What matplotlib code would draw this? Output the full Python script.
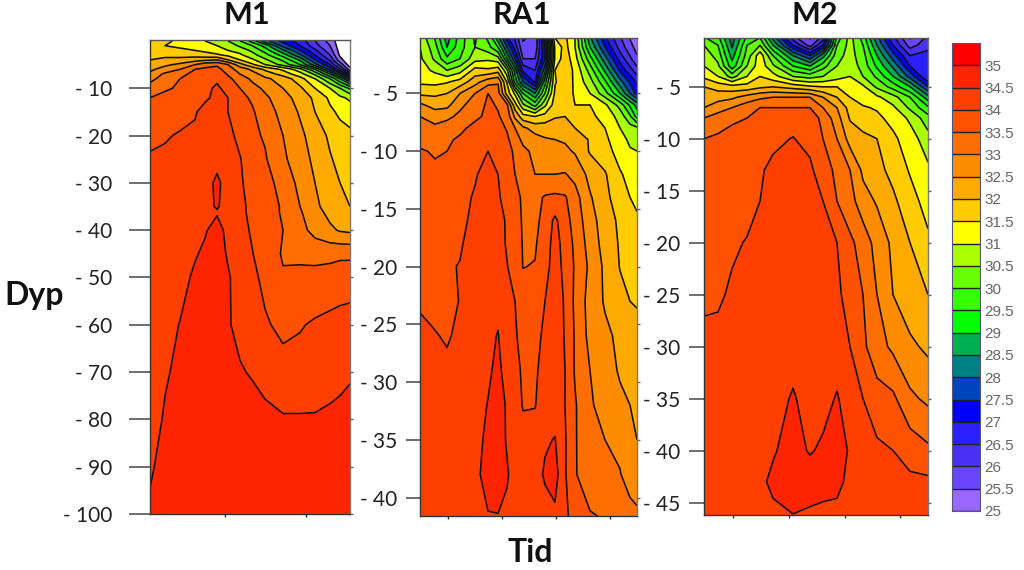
import matplotlib
matplotlib.use("Agg")
import matplotlib.pyplot as plt
from matplotlib.colors import ListedColormap, BoundaryNorm
import numpy as np

W, H = 1024, 570

levels = [25 + 0.5 * i for i in range(21)]
colors = ["#9966ff", "#6a45ff", "#4a30f0", "#2a20ff", "#0000ff", "#0045c0", "#008080",
          "#00b050", "#00ff00", "#33ff00", "#66ff00", "#aaff00", "#ffff00", "#ffcc00",
          "#ffaa00", "#ff8c00", "#ff6e00", "#ff5200", "#ff3f00", "#ff2400"]
bar_labels = ["35", "34.5", "34", "33.5", "33", "32.5", "32", "31.5", "31", "30.5", "30",
              "29.5", "29", "28.5", "28", "27.5", "27", "26.5", "26", "25.5", "25"]

# M1
tid_m1 = [0, 15, 30, 45, 55, 67, 78, 90, 102, 115, 133, 150, 165, 180, 190, 200]
dyp_m1 = [0, 1, 2, 3, 4, 5, 6, 7, 8, 10, 12, 15, 20, 25, 30, 35, 36.2, 40, 45, 50, 60, 70, 80, 90, 100]
temp_m1 = [
    [31.6, 31.6, 31.4, 31.2, 31, 30.8, 30.5, 30, 29.3, 28.2, 27.3, 26.8, 26, 25.3, 24.7, 24.5],
    [31.7, 31.5, 31.4, 31.3, 31.2, 31, 30.8, 30.4, 30, 29.3, 27.8, 27, 26.2, 25.5, 24.7, 24.5],
    [31.8, 31.7, 31.6, 31.5, 31.4, 31.2, 31, 30.8, 30.4, 29.8, 28.6, 27.5, 26.6, 25.7, 24.8, 24.5],
    [31.9, 31.9, 31.8, 31.8, 31.7, 31.6, 31.4, 31.1, 30.7, 30.2, 29.3, 28.1, 27, 26, 24.9, 24.5],
    [32, 32.1, 32.2, 32.3, 32.4, 32.5, 32, 31.5, 31.1, 30.6, 29.9, 28.9, 27.5, 26.4, 25.2, 24.5],
    [32.2, 32.4, 32.6, 33, 33.3, 33.4, 33, 32.2, 31.6, 31, 30.3, 29.5, 28.2, 27, 25.8, 24.7],
    [32.4, 32.7, 33, 33.5, 33.6, 33.7, 33.2, 32.8, 32.4, 31.9, 31.4, 30.7, 29.5, 27.8, 26.6, 25.2],
    [32.6, 33.1, 33.4, 33.6, 33.7, 33.8, 33.45, 33, 32.7, 32.3, 31.8, 31.2, 30.4, 29, 27.8, 26.5],
    [32.8, 33.3, 33.5, 33.65, 33.8, 33.9, 33.6, 33.3, 32.9, 32.6, 32.3, 31.7, 31, 30, 29, 27.8],
    [33.3, 33.45, 33.55, 33.7, 33.85, 34.1, 33.8, 33.5, 33.2, 32.9, 32.5, 32.1, 31.5, 31, 30.5, 29.9],
    [33.5, 33.6, 33.7, 33.8, 33.9, 34.15, 34, 33.6, 33.45, 33.1, 32.7, 32.3, 31.9, 31.4, 31.1, 30.9],
    [33.65, 33.7, 33.8, 33.95, 34.2, 34.25, 34, 33.75, 33.55, 33.3, 32.8, 32.45, 32, 31.6, 31.4, 31.3],
    [33.9, 33.95, 34.05, 34.1, 34.2, 34.3, 34.1, 33.9, 33.6, 33.45, 33, 32.6, 32.3, 31.9, 31.7, 31.6],
    [34.05, 34.1, 34.1, 34.15, 34.2, 34.35, 34.2, 34.02, 33.8, 33.55, 33.1, 32.7, 32.4, 32.05, 31.85, 31.75],
    [34.1, 34.1, 34.15, 34.2, 34.3, 34.6, 34.3, 34.05, 33.85, 33.65, 33.35, 32.85, 32.5, 32.2, 32, 31.85],
    [34.1, 34.15, 34.2, 34.25, 34.35, 34.55, 34.3, 34.1, 33.9, 33.7, 33.45, 33, 32.6, 32.3, 32.1, 32],
    [34.1, 34.15, 34.2, 34.25, 34.35, 34.45, 34.3, 34.1, 33.9, 33.7, 33.45, 33.05, 32.7, 32.35, 32.2, 32.1],
    [34.1, 34.15, 34.2, 34.3, 34.45, 34.7, 34.35, 34.15, 33.95, 33.75, 33.5, 33.15, 32.85, 32.6, 32.45, 32.4],
    [34.1, 34.2, 34.25, 34.45, 34.6, 34.7, 34.45, 34.2, 34.02, 33.8, 33.45, 33.37, 33.3, 33.35, 33.4, 33.4],
    [34.1, 34.2, 34.3, 34.6, 34.75, 34.8, 34.55, 34.3, 34.1, 33.9, 33.55, 33.65, 33.7, 33.72, 33.75, 33.77],
    [34.15, 34.3, 34.52, 34.8, 34.9, 34.9, 34.55, 34.35, 34.2, 34.05, 33.9, 33.97, 34.05, 34.12, 34.17, 34.2],
    [34.2, 34.45, 34.6, 34.85, 34.9, 34.9, 34.75, 34.55, 34.45, 34.3, 34.15, 34.15, 34.2, 34.3, 34.4, 34.45],
    [34.3, 34.55, 34.7, 34.85, 34.9, 34.9, 34.85, 34.8, 34.75, 34.65, 34.55, 34.55, 34.55, 34.6, 34.6, 34.65],
    [34.42, 34.7, 34.8, 34.85, 34.9, 34.9, 34.85, 34.8, 34.8, 34.75, 34.7, 34.7, 34.7, 34.7, 34.7, 34.75],
    [34.6, 34.75, 34.85, 34.85, 34.9, 34.9, 34.85, 34.85, 34.8, 34.8, 34.8, 34.8, 34.8, 34.8, 34.8, 34.8],
]

# RA1
tid_ra1 = [0, 15, 27, 40, 55, 68, 78, 87, 95, 103, 115, 125, 135, 145, 155, 170, 185, 200, 210, 217]
dyp_ra1 = [0, 1, 2, 3, 4, 5, 6, 7, 8, 9, 10, 12, 14, 16, 18, 20, 23, 26, 29, 32, 35, 38, 41.6]
temp_ra1 = [
    [30.8, 29.9, 28.7, 29.7, 30.6, 29.8, 28.5, 27, 26.3, 25.4, 25.6, 27.8, 31.6, 31.6, 31, 28.5, 27, 26, 25.4, 25.2],
    [31, 30.2, 29, 29.8, 30.5, 30.2, 29.5, 28, 26.8, 25.6, 25.6, 27.5, 31.1, 31.7, 31, 29, 27.5, 26.3, 25.7, 25.3],
    [31.1, 30.4, 29.6, 30, 30.8, 30.9, 30.7, 29, 27.6, 26, 26, 27.5, 31.1, 31.8, 31.2, 29.7, 28.2, 26.8, 26.1, 25.6],
    [31.2, 30.9, 30.5, 30.8, 31.7, 31.6, 31.8, 30.6, 28.8, 26.9, 26.5, 28.3, 31.5, 31.8, 31.4, 30.3, 28.9, 27.4, 26.7, 26.2],
    [31.4, 31.35, 31.45, 31.7, 32.3, 32.8, 32.95, 31.45, 29.3, 28, 26.9, 29.3, 31.45, 31.85, 31.4, 30.7, 29.6, 28.2, 27.4, 26.9],
    [31.9, 31.9, 32, 32.5, 33, 33.5, 33.2, 31.8, 30.9, 29.5, 28.5, 30, 31.6, 31.9, 31.4, 31, 30.2, 29, 28, 27.3],
    [32.6, 32.3, 32.35, 32.9, 33.2, 33.6, 33.45, 33.1, 31.7, 30.6, 29.8, 30.9, 31.75, 31.85, 31.5, 31.5, 31.1, 30.3, 29.4, 28.8],
    [33, 32.8, 32.9, 33.1, 33.35, 33.65, 33.55, 33.3, 32.4, 31.7, 31.5, 31.7, 31.95, 32, 31.95, 31.6, 31.35, 30.8, 30.1, 29.3],
    [33.2, 33.1, 33.2, 33.35, 33.7, 33.8, 33.7, 33.45, 33, 32.6, 32.3, 32.25, 32.3, 32.3, 32, 31.85, 31.5, 31, 30.7, 30.6],
    [33.35, 33.3, 33.4, 33.6, 33.8, 33.85, 33.8, 33.6, 33.2, 32.9, 32.7, 32.55, 32.5, 32.45, 32.3, 31.95, 31.6, 31.2, 30.9, 30.8],
    [33.55, 33.45, 33.5, 33.65, 33.85, 34, 33.9, 33.7, 33.4, 33.1, 32.9, 32.8, 32.75, 32.6, 32.45, 31.95, 31.7, 31.3, 31.05, 31],
    [33.6, 33.6, 33.65, 33.75, 33.95, 34.2, 34, 33.8, 33.5, 33.05, 33, 33, 33, 33.03, 32.85, 32.35, 32.05, 31.55, 31.35, 31.25],
    [33.7, 33.7, 33.75, 33.85, 34.05, 34.3, 34.05, 33.85, 33.6, 33.45, 33.35, 33.55, 33.6, 33.55, 33.2, 32.55, 32.15, 31.7, 31.5, 31.42],
    [33.75, 33.75, 33.8, 33.9, 34.1, 34.35, 34.15, 33.95, 33.7, 33.45, 33.35, 33.7, 34.1, 33.7, 33.3, 32.7, 32.25, 31.9, 31.65, 31.55],
    [33.85, 33.85, 33.9, 33.95, 34.2, 34.4, 34.2, 33.95, 33.75, 33.47, 33.45, 33.75, 34.2, 33.8, 33.4, 32.8, 32.3, 31.95, 31.75, 31.7],
    [33.9, 33.9, 33.95, 34.02, 34.25, 34.4, 34.25, 34.02, 33.8, 33.49, 33.52, 33.8, 34.25, 33.85, 33.45, 32.9, 32.4, 31.98, 31.85, 31.8],
    [33.95, 33.85, 33.85, 34.02, 34.2, 34.4, 34.4, 34.15, 34, 33.7, 33.65, 34, 34.25, 33.95, 33.4, 32.8, 32.45, 32.15, 32, 31.95],
    [34.1, 34.03, 33.95, 34.1, 34.25, 34.4, 34.52, 34.2, 34.05, 33.85, 33.85, 34.1, 34.25, 33.97, 33.45, 32.85, 32.6, 32.4, 32.25, 32.2],
    [34.1, 34.1, 34.1, 34.15, 34.25, 34.42, 34.62, 34.3, 34.1, 33.95, 33.92, 34.2, 34.3, 34, 33.45, 33, 32.7, 32.45, 32.35, 32.3],
    [34.1, 34.1, 34.15, 34.2, 34.3, 34.52, 34.7, 34.45, 34.15, 33.98, 33.98, 34.25, 34.3, 34, 33.55, 33.05, 32.85, 32.6, 32.5, 32.45],
    [34.1, 34.15, 34.2, 34.25, 34.35, 34.6, 34.75, 34.45, 34.25, 34.1, 34.2, 34.45, 34.52, 34.05, 33.55, 33.1, 33, 32.85, 32.65, 32.5],
    [34.15, 34.2, 34.25, 34.3, 34.4, 34.65, 34.8, 34.55, 34.3, 34.25, 34.35, 34.55, 34.7, 34.05, 33.55, 33.15, 33.25, 33.03, 32.75, 32.7],
    [34.2, 34.25, 34.3, 34.35, 34.4, 34.48, 34.48, 34.4, 34.3, 34.3, 34.3, 34.35, 34.4, 34.1, 33.8, 33.55, 33.45, 33.3, 33.2, 33.1],
]

# M2
tid_m2 = [0, 14, 28, 43, 56, 69, 89, 106, 119, 133, 146, 159, 173, 189, 206, 224]
dyp_m2 = [0, 1, 2, 3, 4, 5, 6, 7, 8, 10, 13, 16, 20, 25, 30, 35, 40, 43, 46.2]
temp_m2 = [
    [29.9, 29.5, 28.2, 29.5, 29.8, 28, 26, 25.3, 26, 29.5, 30.7, 29.7, 28, 26.5, 25.3, 26],
    [30.5, 30, 28.4, 30, 30.5, 29, 27, 25.8, 27, 30, 30.7, 30, 28.5, 27, 25.8, 26.3],
    [30.8, 30.3, 28.8, 30.2, 31.3, 30, 28.5, 27.5, 28.8, 30.3, 30.7, 30.2, 29, 27.7, 26.5, 26.7],
    [31, 30.6, 29.2, 30.5, 31.3, 30.6, 29.5, 29, 29.8, 30.5, 30.8, 30.3, 29.4, 28.4, 27, 27],
    [31.4, 31, 30.3, 31, 31.5, 31.2, 30.5, 30.3, 30.5, 30.8, 31, 30.5, 29.9, 29, 27.8, 26.5],
    [32, 31.8, 31.7, 31.7, 31.9, 32, 31.8, 31.6, 31.5, 31.5, 31.4, 31.1, 30.4, 29.8, 29, 27.5],
    [32.3, 32.3, 32.4, 32.7, 32.9, 33, 33, 33, 32.5, 32, 31.5, 31.3, 31.1, 30.7, 30, 28.7],
    [32.5, 32.8, 33, 33.3, 33.5, 33.5, 33.5, 33.5, 33, 32.5, 31.8, 31.55, 31.45, 31.1, 30.4, 29.6],
    [33, 33.2, 33.4, 33.5, 33.7, 33.8, 33.8, 33.7, 33.4, 32.7, 31.95, 31.8, 31.6, 31.35, 30.9, 30.2],
    [33.5, 33.6, 33.7, 33.8, 33.85, 33.9, 34.02, 33.85, 33.5, 33, 32.3, 32.1, 32, 31.6, 31.25, 30.7],
    [33.6, 33.7, 33.8, 33.9, 33.95, 34.1, 34.3, 34.1, 33.7, 33.4, 33, 32.4, 32.15, 31.85, 31.45, 31.1],
    [33.7, 33.8, 33.85, 33.88, 34, 34.3, 34.3, 34.2, 34, 33.5, 33.2, 32.7, 32.45, 32.1, 31.7, 31.3],
    [33.8, 33.9, 33.95, 34.02, 34.2, 34.3, 34.3, 34.3, 34.1, 34, 33.6, 33.3, 32.8, 32.4, 32, 31.6],
    [33.93, 33.95, 34.05, 34.1, 34.2, 34.3, 34.3, 34.3, 34.2, 34.1, 33.8, 33.5, 33, 32.5, 32.2, 32],
    [34.1, 34.1, 34.1, 34.1, 34.2, 34.3, 34.3, 34.4, 34.3, 34.2, 34, 33.6, 33.2, 32.9, 32.6, 32.4],
    [34.1, 34.1, 34.1, 34.2, 34.3, 34.3, 34.55, 34.3, 34.3, 34.55, 34.2, 34, 33.7, 33.6, 33.1, 32.9],
    [34.1, 34.1, 34.2, 34.2, 34.3, 34.45, 34.7, 34.45, 34.6, 34.7, 34.45, 34.3, 34.1, 34, 33.8, 33.6],
    [34.2, 34.2, 34.2, 34.3, 34.4, 34.6, 34.8, 34.8, 34.8, 34.7, 34.3, 34.2, 34.2, 34.15, 34.1, 34.1],
    [34.2, 34.2, 34.3, 34.3, 34.35, 34.4, 34.49, 34.4, 34.3, 34.3, 34.3, 34.3, 34.2, 34.2, 34.1, 34.1],
]

# pixel boxes of the panels (left, top, right, bottom)
panels = [
    ("M1", tid_m1, dyp_m1, temp_m1, (150, 40, 350, 514), (-99.9, 0.2),
     [10, 20, 30, 40, 50, 60, 70, 80, 90, 100], [75, 156], 21, 12),
    ("RA1", tid_ra1, dyp_ra1, temp_ra1, (420, 38, 637, 516), (-41.6, -0.2),
     [5, 10, 15, 20, 25, 30, 35, 40], [28, 82, 136, 190], 14, 6),
    ("M2", tid_m2, dyp_m2, temp_m2, (704, 38, 928, 515), (-46.2, -0.3),
     [5, 10, 15, 20, 25, 30, 35, 40, 45], [29, 85, 141, 196], 15, 6),
]
title_x = [247, 522, 815]


def box(fig, b):
    return fig.add_axes([b[0] / W, 1 - b[3] / H, (b[2] - b[0]) / W, (b[3] - b[1]) / H])


plt.rcParams["font.family"] = ["Lato", "DejaVu Sans"]
fig = plt.figure(figsize=(W / 100, H / 100), dpi=100, facecolor="white")
cmap = ListedColormap(colors)
norm = BoundaryNorm(levels, cmap.N)

for i, (name, tid, dyp, temp, b, ylim, yt, xt, tl, pad) in enumerate(panels):
    ax = box(fig, b)
    x = np.array(tid)
    y = -np.array(dyp)
    z = np.array(temp)
    ax.contourf(x, y, z, levels=levels, cmap=cmap, norm=norm)
    ax.contour(x, y, z, levels=levels, colors="#111111", linewidths=1.15)
    ax.set_xlim(tid[0], tid[-1])
    ax.set_ylim(*ylim)
    ax.set_xticks(xt)
    ax.set_xticklabels([])
    ax.set_yticks([-v for v in yt])
    ax.set_yticklabels(["- %d" % v for v in yt], fontsize=15, color="#222222")
    ax.tick_params(axis="y", length=tl * 0.72, width=1.2, color="#555555", pad=pad)
    ax.tick_params(axis="x", length=2.5, width=1, color="#333333", direction="out")
    for s in ax.spines.values():
        s.set_linewidth(1.0)
        s.set_color("#333333")
    ax.spines["right"].set_color("#777777")
    ax.spines["top"].set_color("#555555")
    ax2 = ax.twinx()
    ax2.set_ylim(*ylim)
    ax2.set_yticks([-v for v in yt])
    ax2.set_yticklabels([])
    ax2.tick_params(axis="y", length=2, width=1, color="#666666", direction="out")
    for s in ax2.spines.values():
        s.set_visible(False)
    fig.text(title_x[i] / W, 1 - 15 / H, name, fontsize=22, fontweight="bold",
             ha="center", va="center", color="#111111")

fig.text(34 / W, 1 - 295 / H, "Dyp", fontsize=23, fontweight="bold", ha="center", va="center", color="#111111")
fig.text(530 / W, 1 - 553 / H, "Tid", fontsize=23, fontweight="bold", ha="center", va="center", color="#111111")

# colour bar
cax = box(fig, (952, 43, 980, 511))
bar_vals = levels + [35.5]
cax.pcolormesh([0, 1], bar_vals, np.array([[v + 0.25] for v in bar_vals[:-1]]),
               cmap=ListedColormap(colors + ["#ff0000"]),
               norm=BoundaryNorm(bar_vals, len(colors) + 1))
cax.hlines(levels, 0, 1, color="#222222", linewidth=1.0)
cax.set_xlim(0, 1)
cax.set_ylim(25, 35.5)
cax.set_xticks([])
cax.yaxis.tick_right()
cax.set_yticks([float(v) for v in bar_labels])
cax.set_yticklabels(bar_labels, fontsize=11, color="#666666", family="Liberation Sans")
cax.tick_params(axis="y", length=0, pad=3)
for s in cax.spines.values():
    s.set_linewidth(0.8)
    s.set_color("#555577")

fig.savefig("out.png", dpi=100)
